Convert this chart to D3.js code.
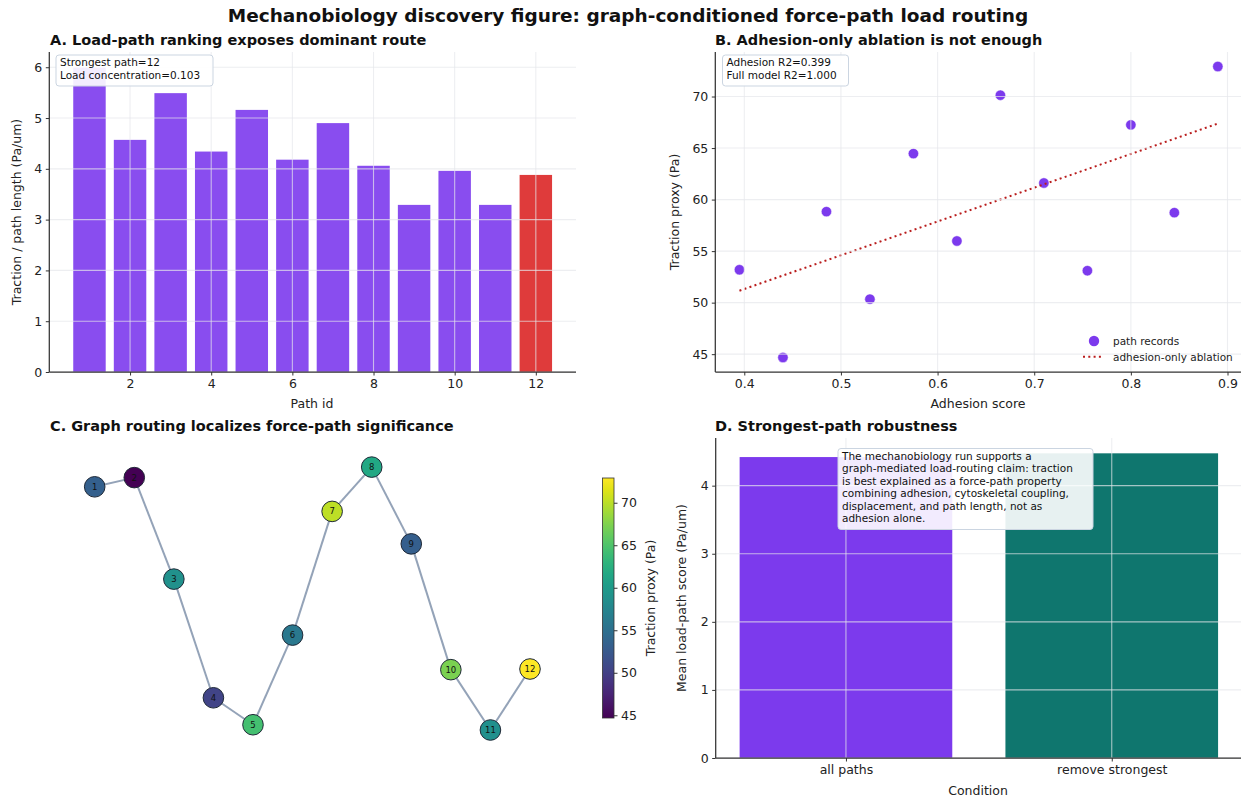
<!DOCTYPE html>
<html><head><meta charset="utf-8">
<script src="https://cdn.jsdelivr.net/npm/d3@7"></script>
<style>body{margin:0;background:#fff} svg{display:block} text{font-family:"DejaVu Sans",sans-serif}</style>
</head><body><svg id="fig" width="1241" height="799"></svg>
<script>
// ---- data ----
const pathIds = [1,2,3,4,5,6,7,8,9,10,11,12];
const loadScore = [6.0,4.57,5.49,4.34,5.16,4.18,4.90,4.06,3.29,3.96,3.29,3.88];
const strongestPath = 12;
const adhesion = [0.395,0.44,0.485,0.53,0.575,0.62,0.665,0.71,0.755,0.80,0.845,0.89];
const traction = [53.19,44.68,58.83,50.34,64.46,55.98,70.13,61.61,53.1,67.25,58.73,72.91];
const layoutY = [0.85,0.92,0.148,-0.755,-0.96,-0.278,0.663,1.0,0.416,-0.541,-1.0,-0.536];
const conditions = ["all paths","remove strongest"];
const meanScores = [4.42,4.475];
const xTicksA = [2,4,6,8,10,12];
const yTicksA = [0,1,2,3,4,5,6];
const xTicksB = [0.4,0.5,0.6,0.7,0.8,0.9];
const yTicksB = [45,50,55,60,65,70];
const cbTicks = [45,50,55,60,65,70];
const yTicksD = [0,1,2,3,4];
const annotA = ["Strongest path=12","Load concentration=0.103"];
const annotB = ["Adhesion R2=0.399","Full model R2=1.000"];
const annotD = ["The mechanobiology run supports a","graph-mediated load-routing claim: traction","is best explained as a force-path property","combining adhesion, cytoskeletal coupling,","displacement, and path length, not as","adhesion alone."];

const svg = d3.select("#fig");
const SP = "#333", GRID = "#e5e7eb", GOP = 0.7, TF = 12.5;

function title(x, y, t, size){ svg.append("text").attr("x",x).attr("y",y).attr("font-size",size||14.5).attr("font-weight","bold").attr("fill","#111").text(t); }
function grid(g, xs, ys, xScale, yScale){
  const [x0,x1] = xScale.range(), [y0,y1] = yScale.range();
  xs.forEach(v=>g.append("line").attr("x1",xScale(v)).attr("x2",xScale(v)).attr("y1",y0).attr("y2",y1).attr("stroke",GRID).attr("stroke-opacity",GOP).attr("stroke-width",1.1));
  ys.forEach(v=>g.append("line").attr("y1",yScale(v)).attr("y2",yScale(v)).attr("x1",x0).attr("x2",x1).attr("stroke",GRID).attr("stroke-opacity",GOP).attr("stroke-width",1.1));
}
function axes(g, xScale, yScale, xt, yt, xfmt, yfmt){
  const [x0,x1] = xScale.range(), [y0,y1] = yScale.range();
  const ax = g.append("g").attr("transform",`translate(0,${y0})`).call(d3.axisBottom(xScale).tickValues(xt).tickSize(3.5).tickPadding(3.5).tickFormat(xfmt||d3.format("")));
  const ay = g.append("g").attr("transform",`translate(${x0},0)`).call(d3.axisLeft(yScale).tickValues(yt).tickSize(3.5).tickPadding(3.5).tickFormat(yfmt||d3.format("")));
  [ax,ay].forEach(a=>{ a.select(".domain").remove(); a.selectAll("line").attr("stroke",SP).attr("stroke-width",1); a.selectAll("text").attr("font-size",TF).attr("fill","#222").attr("font-family","DejaVu Sans"); });
  g.append("line").attr("x1",x0).attr("x2",x1).attr("y1",y0).attr("y2",y0).attr("stroke",SP).attr("stroke-width",1.25);
  g.append("line").attr("x1",x0).attr("x2",x0).attr("y1",y0).attr("y2",y1).attr("stroke",SP).attr("stroke-width",1.25);
}
function ylabel(x, y, t){ svg.append("text").attr("transform",`translate(${x},${y}) rotate(-90)`).attr("text-anchor","middle").attr("font-size",TF).attr("fill","#222").text(t); }
function xlabel(x, y, t){ svg.append("text").attr("x",x).attr("y",y).attr("text-anchor","middle").attr("font-size",TF).attr("fill","#222").text(t); }
function box(x, y, w, h, lines, fs, lh, op){
  svg.append("rect").attr("x",x).attr("y",y).attr("width",w).attr("height",h).attr("rx",3).attr("fill","#fff").attr("fill-opacity",op||0.9).attr("stroke","#cbd5e1").attr("stroke-width",1);
  lines.forEach((t,i)=>svg.append("text").attr("x",x+4).attr("y",y+11+i*lh).attr("font-size",fs).attr("fill","#111").text(t));
}

// ---- main title ----
svg.append("text").attr("x",628).attr("y",21.5).attr("text-anchor","middle").attr("font-size",18.5).attr("font-weight","bold").attr("fill","#111").text("Mechanobiology discovery figure: graph-conditioned force-path load routing");

// ---- Panel A ----
{
  const g = svg.append("g");
  const x = d3.scaleLinear().domain([0.01,12.99]).range([49.3,576]);
  const y = d3.scaleLinear().domain([0,6.3]).range([372,52]);
  g.selectAll("rect.bar").data(pathIds).join("rect")
    .attr("x",d=>x(d-0.4)).attr("width",d=>x(d+0.4)-x(d-0.4))
    .attr("y",(d,i)=>y(loadScore[i])).attr("height",(d,i)=>y(0)-y(loadScore[i]))
    .attr("fill",d=>d===strongestPath?"#dc2626":"#7c3aed").attr("fill-opacity",0.9);
  grid(g, xTicksA, yTicksA, x, y);
  axes(g, x, y, xTicksA, yTicksA);
  title(50,45,"A. Load-path ranking exposes dominant route");
  ylabel(21,212,"Traction / path length (Pa/um)");
  xlabel(312,408,"Path id");
  box(56,55,157,31,annotA,10.5,12.7);
}

// ---- Panel B ----
{
  const g = svg.append("g");
  const x = d3.scaleLinear().domain([0.37,0.915]).range([715.3,1242]);
  const y = d3.scaleLinear().domain([43.27,74.32]).range([372,52]);
  const mx = d3.mean(adhesion), my = d3.mean(traction);
  let sxy=0, sxx=0; adhesion.forEach((a,i)=>{ sxy+=(a-mx)*(traction[i]-my); sxx+=(a-mx)*(a-mx); });
  const slope = sxy/sxx, icpt = my - slope*mx;
  const ext = d3.extent(adhesion);
  g.selectAll("circle").data(adhesion).join("circle").attr("cx",d=>x(d)).attr("cy",(d,i)=>y(traction[i])).attr("r",5.2).attr("fill","#7c3aed").attr("stroke","#fff").attr("stroke-width",0.5);
  g.append("line").attr("x1",x(ext[0])).attr("x2",x(ext[1])).attr("y1",y(icpt+slope*ext[0])).attr("y2",y(icpt+slope*ext[1]))
    .attr("stroke","#b91c1c").attr("stroke-width",2).attr("stroke-dasharray","2,3.3");
  grid(g, xTicksB, yTicksB, x, y);
  axes(g, x, y, xTicksB, yTicksB, d3.format(".1f"));
  title(715,45,"B. Adhesion-only ablation is not enough");
  ylabel(679,212,"Traction proxy (Pa)");
  xlabel(978,408,"Adhesion score");
  box(722.5,55,126,31,annotB,10.5,12.7);
  // legend
  svg.append("circle").attr("cx",1094).attr("cy",341).attr("r",5.2).attr("fill","#7c3aed");
  svg.append("line").attr("x1",1083).attr("x2",1104).attr("y1",356.7).attr("y2",356.7).attr("stroke","#b91c1c").attr("stroke-width",2).attr("stroke-dasharray","2,3.3");
  svg.append("text").attr("x",1113).attr("y",345).attr("font-size",10.5).attr("fill","#222").text("path records");
  svg.append("text").attr("x",1113).attr("y",360.5).attr("font-size",10.5).attr("fill","#222").text("adhesion-only ablation");
}

// ---- Panel C ----
{
  const g = svg.append("g");
  const x = d3.scaleLinear().domain([1,12]).range([94.7,530]);
  const y = d3.scaleLinear().domain([-1,1]).range([730,467.1]);
  const ext = d3.extent(traction);
  const col = d3.scaleSequential(d3.interpolateViridis).domain(ext);
  const pts = pathIds.map((d,i)=>[x(d),y(layoutY[i])]);
  for(let i=0;i<pts.length-1;i++) g.append("line").attr("x1",pts[i][0]).attr("y1",pts[i][1]).attr("x2",pts[i+1][0]).attr("y2",pts[i+1][1]).attr("stroke","#94a3b8").attr("stroke-width",2);
  g.selectAll("circle").data(pathIds).join("circle").attr("cx",(d,i)=>pts[i][0]).attr("cy",(d,i)=>pts[i][1]).attr("r",10.3)
    .attr("fill",(d,i)=>col(traction[i])).attr("stroke","#1f2937").attr("stroke-width",1);
  g.selectAll("text.nl").data(pathIds).join("text").attr("x",(d,i)=>pts[i][0]).attr("y",(d,i)=>pts[i][1]+3).attr("text-anchor","middle").attr("font-size",8.5).attr("fill","#111").text(d=>d);
  title(50,431,"C. Graph routing localizes force-path significance");
  // colorbar
  const defs = svg.append("defs");
  const lg = defs.append("linearGradient").attr("id","vir").attr("x1",0).attr("x2",0).attr("y1",1).attr("y2",0);
  d3.range(0,1.0001,0.05).forEach(t=>lg.append("stop").attr("offset",t).attr("stop-color",d3.interpolateViridis(t)));
  const cy = d3.scaleLinear().domain(ext).range([718,478]);
  svg.append("rect").attr("x",602.5).attr("y",478).attr("width",11.5).attr("height",240).attr("fill","url(#vir)").attr("stroke","#333").attr("stroke-width",0.8);
  const ac = svg.append("g").attr("transform","translate(614,0)").call(d3.axisRight(cy).tickValues(cbTicks).tickSize(3.5).tickPadding(3.5));
  ac.select(".domain").remove(); ac.selectAll("line").attr("stroke",SP); ac.selectAll("text").attr("font-size",TF).attr("fill","#222").attr("font-family","DejaVu Sans");
  ylabel(655,598,"Traction proxy (Pa)");
}

// ---- Panel D ----
{
  const g = svg.append("g");
  const x = d3.scaleLinear().domain([-0.49,1.49]).range([715.7,1242]);
  const y = d3.scaleLinear().domain([0,4.7]).range([758,438]);
  const cols = ["#7c3aed","#0f766e"];
  g.selectAll("rect").data(conditions).join("rect").attr("x",(d,i)=>x(i-0.4)).attr("width",(d,i)=>x(i+0.4)-x(i-0.4))
    .attr("y",(d,i)=>y(meanScores[i])).attr("height",(d,i)=>y(0)-y(meanScores[i])).attr("fill",(d,i)=>cols[i]);
  grid(g, [0,1], yTicksD, x, y);
  axes(g, x, y, [0,1], yTicksD, i=>conditions[i]);
  title(715,431,"D. Strongest-path robustness");
  ylabel(686,598,"Mean load-path score (Pa/um)");
  xlabel(978,795,"Condition");
  box(838,448.5,255,81,annotD,10.5,12.5,0.9);
}
</script></body></html>
